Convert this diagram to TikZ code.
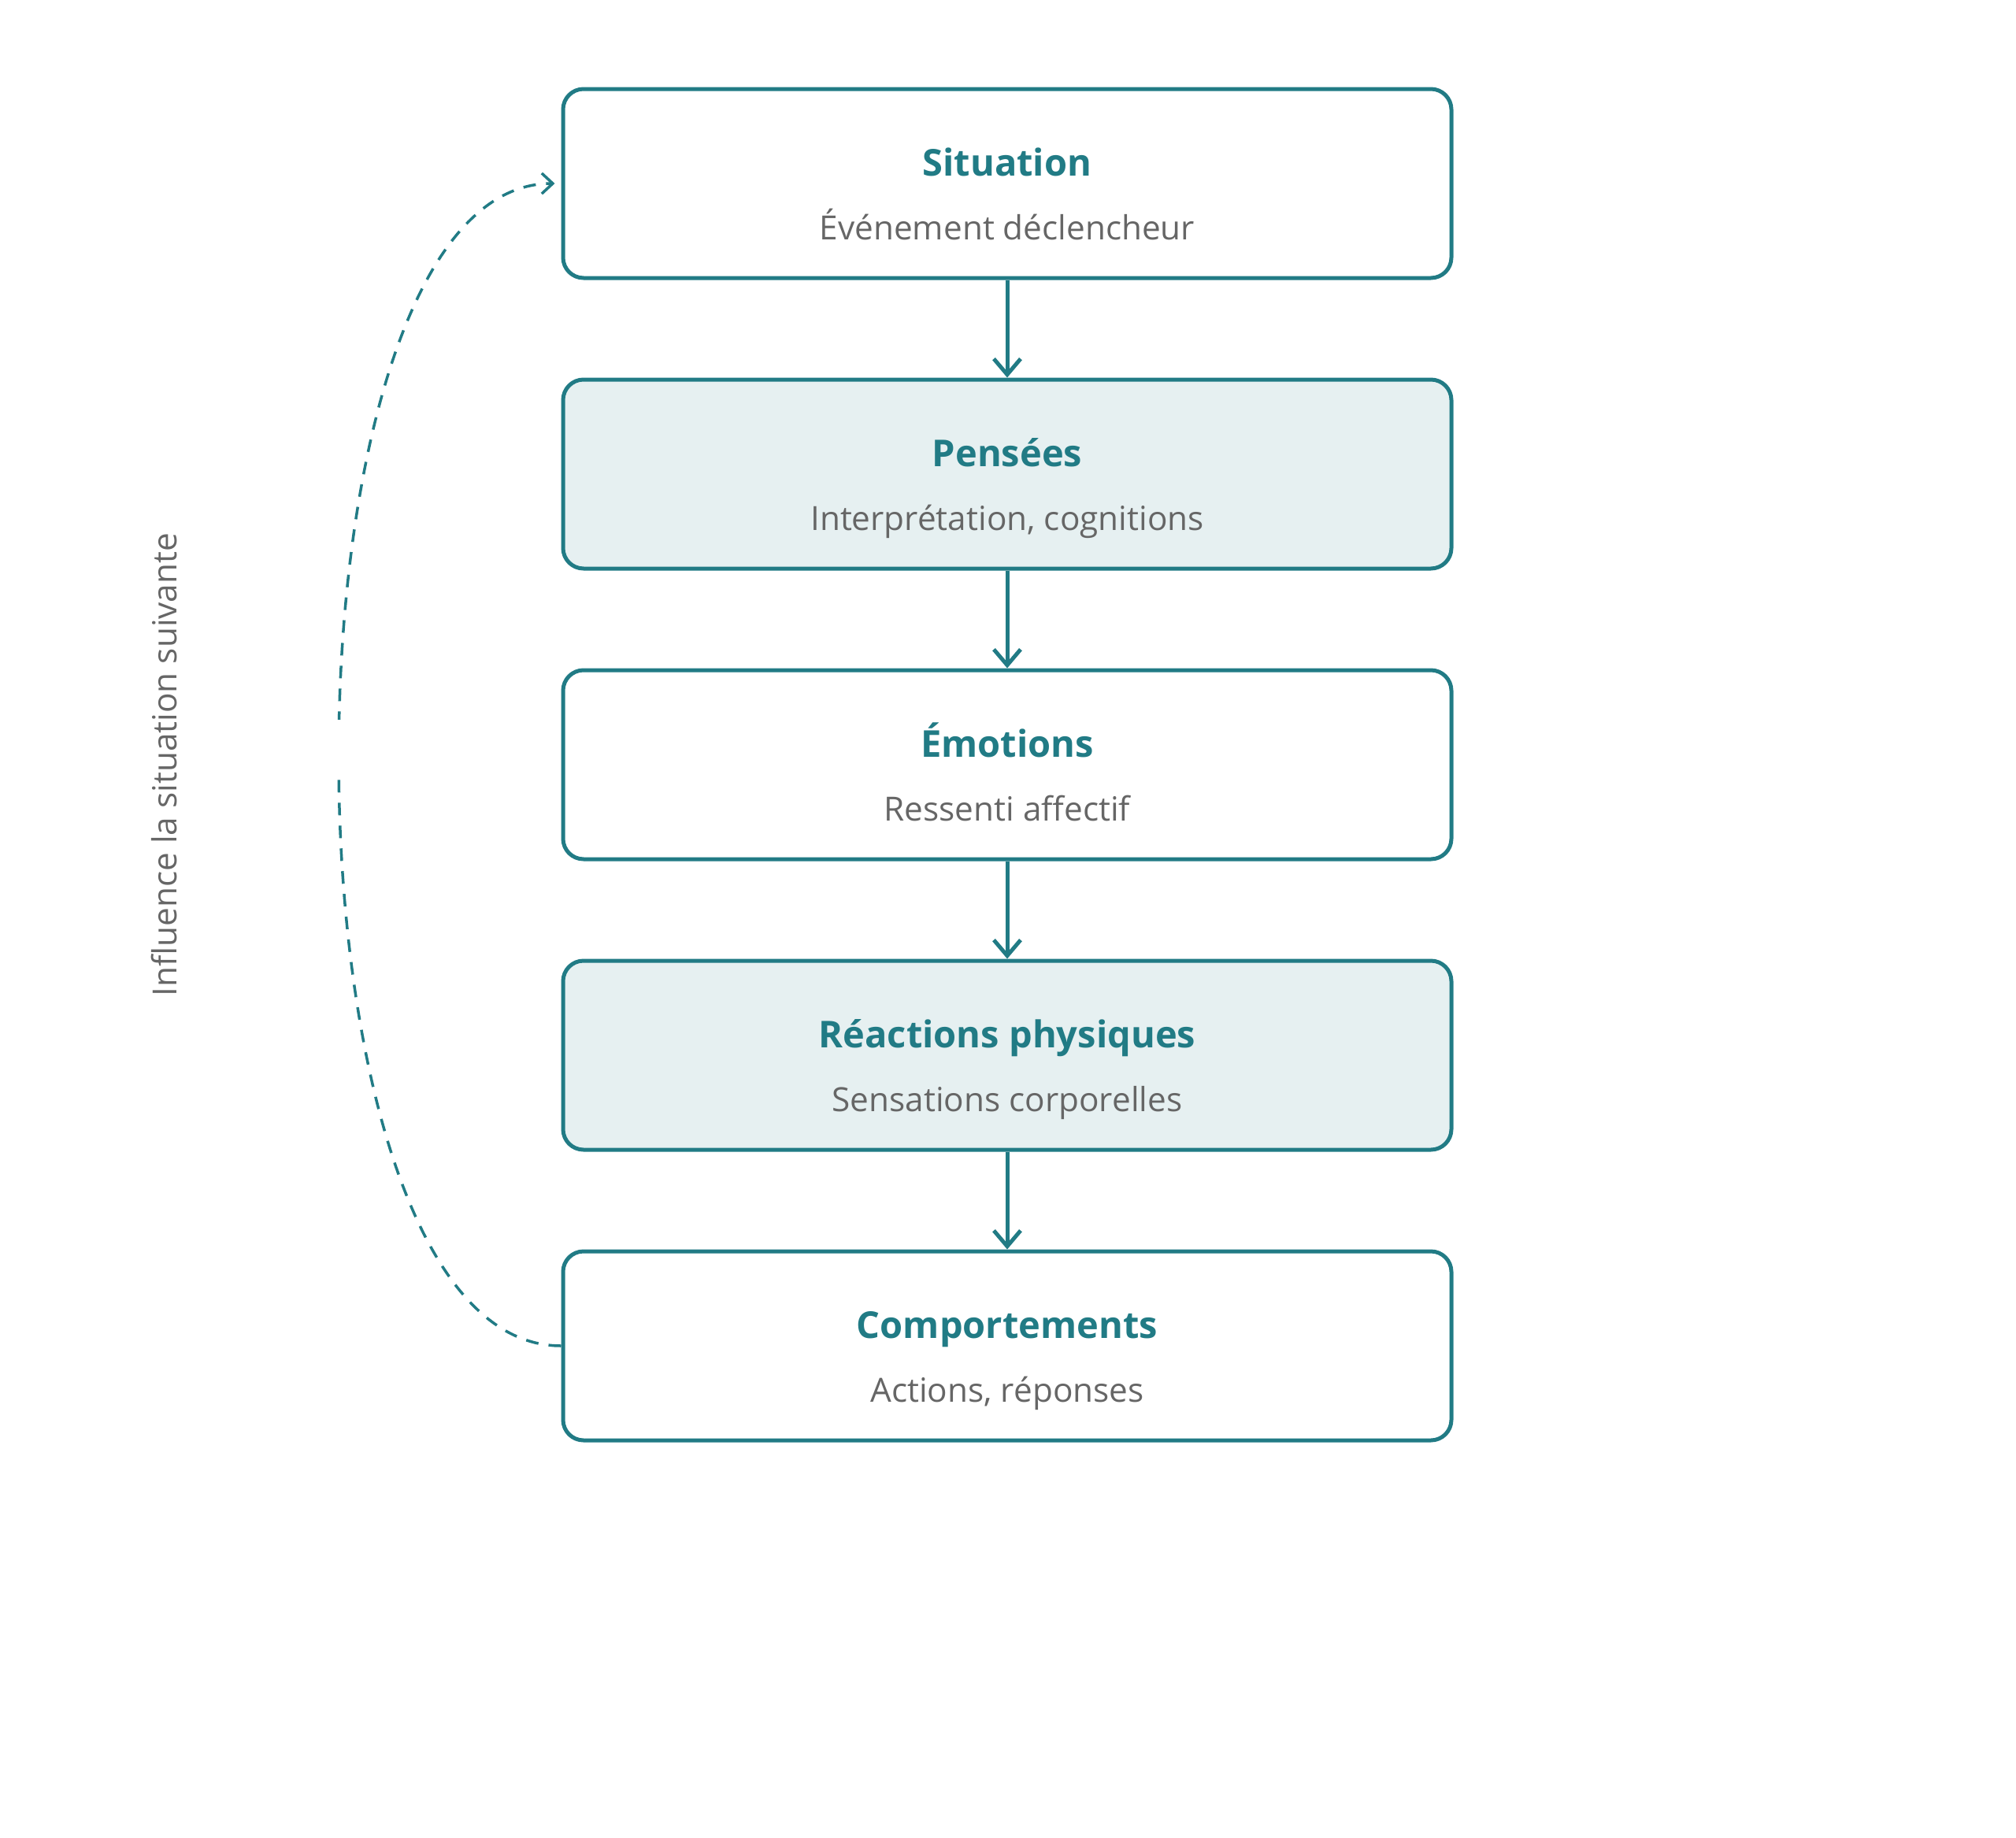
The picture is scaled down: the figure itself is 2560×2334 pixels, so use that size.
\documentclass[tikz,border=0pt]{standalone}
\usepackage{fontspec}
\setmainfont{Open Sans}
\usetikzlibrary{arrows.meta,calc}
\definecolor{teal1}{HTML}{217B85}
\definecolor{lightfill}{HTML}{E6F0F1}
\definecolor{subgray}{HTML}{666666}
\tikzset{
  x=1pt, y=1pt,
  stepbox/.style={draw=teal1, line width=5pt, rounded corners=26pt, minimum width=1128pt, minimum height=240pt, inner sep=0pt},
  plainbox/.style={stepbox, fill=white},
  shadebox/.style={stepbox, fill=lightfill},
  ttl/.style={font=\fontsize{47}{50}\selectfont\bfseries, text=teal1, anchor=base, inner sep=0pt},
  sub/.style={font=\fontsize{42.3}{46}\selectfont, text=subgray, anchor=base, inner sep=0pt},
  flow/.style={draw=teal1, line width=5pt, -{Straight Barb[length=20pt,width=34pt,line width=5pt]}},
  loop/.style={draw=teal1, line width=3.5pt, dash pattern=on 16pt off 13pt, -{Straight Barb[length=14pt,width=26pt,line width=3.5pt]}}
}
\begin{document}
\begin{tikzpicture}
\useasboundingbox (0,0) rectangle (2560,-2334);
\node[plainbox] (s1) at (1279,-233) {};
\node[shadebox] (s2) at (1279,-602) {};
\node[plainbox] (s3) at (1279,-971) {};
\node[shadebox] (s4) at (1279,-1340) {};
\node[plainbox] (s5) at (1279,-1709) {};

\foreach \n/\t/\s in {s1/Situation/Événement déclencheur, s2/Pensées/{Interprétation, cognitions}, s3/Émotions/Ressenti affectif, s4/Réactions physiques/Sensations corporelles, s5/Comportements/{Actions, réponses}}{
  \node[ttl] (\n t) at ($(\n.north)+(0,-113)$) {\t};
  \node[sub] (\n s) at ($(\n.north)+(0,-194)$) {\s};
}

\draw[flow] (s1.south) -- (s2.north);
\draw[flow] (s2.south) -- (s3.north);
\draw[flow] (s3.south) -- (s4.north);
\draw[flow] (s4.south) -- (s5.north);

\draw[loop, shorten >=8pt] (s5.west) .. controls (338,-1709) and (338,-233) .. (s1.west)
  node[pos=0.509, fill=white, minimum width=24pt, minimum height=74pt, inner sep=0pt] (gap) {};

\node[font=\fontsize{42.3}{46}\selectfont, text=subgray, rotate=90] (lbl) at (209,-971) {Influence la situation suivante};
\end{tikzpicture}
\end{document}
